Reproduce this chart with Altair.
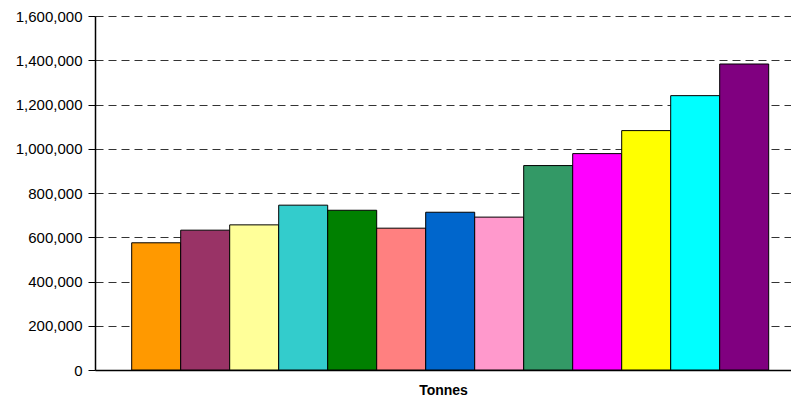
import altair as alt
import pandas as pd

series = ["S1", "S2", "S3", "S4", "S5", "S6", "S7", "S8", "S9", "S10", "S11", "S12", "S13"]
values = [575000, 632000, 656000, 745000, 722000, 641000, 713000, 691000,
          924000, 978000, 1082000, 1240000, 1383000]
colors = ["#FF9900", "#993366", "#FFFF99", "#33CCCC", "#008000", "#FF8080", "#0066CC",
          "#FF99CC", "#339966", "#FF00FF", "#FFFF00", "#00FFFF", "#800080"]
y_ticks = [0, 200000, 400000, 600000, 800000, 1000000, 1200000, 1400000, 1600000]

df = pd.DataFrame({"series": series, "value": values})

chart = alt.Chart(df).mark_bar(stroke="#000000", strokeWidth=1).encode(
    x=alt.X("series:N", sort=series,
            scale=alt.Scale(paddingInner=0, paddingOuter=0.602, align=0.622),
            axis=alt.Axis(title="Tonnes", labels=False, ticks=False, domain=True,
                          domainColor="#000000", domainWidth=1.5,
                          titleFont="Liberation Sans", titleFontSize=14,
                          titleFontWeight="bold", titleColor="#000000",
                          titlePadding=13)),
    y=alt.Y("value:Q", scale=alt.Scale(domain=[0, 1600000], nice=False),
            axis=alt.Axis(title=None, values=y_ticks, format=",.0f",
                          labelFont="Liberation Sans", labelFontSize=15,
                          labelColor="#000000", labelPadding=6,
                          tickSize=7, tickColor="#000000", domainColor="#000000",
                          domainWidth=1.5, grid=True, gridColor="#333333",
                          gridDash=[8, 5], gridWidth=1)),
    color=alt.Color("series:N", sort=series,
                    scale=alt.Scale(domain=series, range=colors), legend=None),
).properties(
    width=696, height=354,
    autosize=alt.AutoSizeParams(type="none"),
    padding={"left": 87, "top": 8, "right": 0, "bottom": 26},
).configure_view(stroke=None)

chart.save("out.html", embed_options={"renderer": "svg", "actions": False})
